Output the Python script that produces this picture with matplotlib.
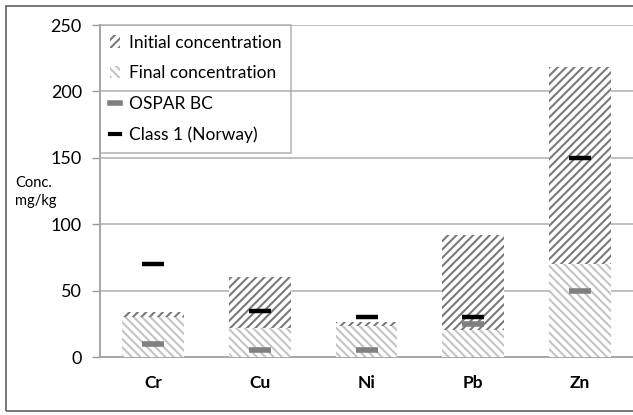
import matplotlib
matplotlib.use('Agg')
import matplotlib.pyplot as plt
from matplotlib.patches import Patch, Rectangle
from matplotlib.lines import Line2D

plt.rcParams['font.family'] = ['Lato', 'DejaVu Sans']
plt.rcParams['hatch.linewidth'] = 1.5

metals = ['Cr', 'Cu', 'Ni', 'Pb', 'Zn']
initial = [34, 60, 26, 92, 218]
final = [30, 22, 23, 20, 70]
ospar_bc = [10, 5, 5, 25, 50]
class1_norway = [70, 35, 30, 30, 150]

fig = plt.figure(figsize=(6.33, 4.15), dpi=100)
ax = fig.add_axes([100/633, 58/415, 533/633, 332/415])

x = range(len(metals))
ax.bar(x, initial, width=0.58, facecolor='white', edgecolor='#7a7a7a',
       linewidth=0, hatch='////', zorder=2)
ax.bar(x, final, width=0.58, facecolor='white', edgecolor='#c4c4c4',
       linewidth=0, hatch='\\\\\\\\', zorder=3)
ax.plot(x, ospar_bc, ls='none', marker='_', ms=16, mew=4, color='#808080', zorder=4)
ax.plot(x, class1_norway, ls='none', marker='_', ms=16, mew=3.2, color='black', zorder=5)

ax.set_xlim(-0.5, 4.5)
ax.set_ylim(0, 250)
ax.set_yticks(range(0, 251, 50))
ax.set_xticks(list(x))
ax.set_xticklabels(metals, fontweight='bold', fontsize=12.5)
ax.tick_params(axis='x', length=0, pad=13)
ax.tick_params(axis='y', length=6, width=1, color='#9a9a9a', labelsize=13, pad=7)
ax.grid(axis='y', color='#c0c0c0', lw=1.4, zorder=0)
ax.set_axisbelow(True)
for s in ['top', 'right']:
    ax.spines[s].set_visible(False)
for s in ['left', 'bottom']:
    ax.spines[s].set_color('#a6a6a6')
    ax.spines[s].set_linewidth(1.4)

fig.text(15/633, 1 - 192/415, 'Conc.\nmg/kg', fontsize=10.5, ha='left', va='center',
         linespacing=1.45)

handles = [
    Patch(facecolor='white', edgecolor='#7a7a7a', linewidth=0, hatch='////'),
    Patch(facecolor='white', edgecolor='#c4c4c4', linewidth=0, hatch='\\\\\\\\'),
    Line2D([], [], color='#808080', lw=4),
    Line2D([], [], color='black', lw=3),
]
labels = ['Initial concentration', 'Final concentration', 'OSPAR BC', 'Class 1 (Norway)']
leg = ax.legend(handles, labels, loc='upper left', bbox_to_anchor=(0, 1),
                borderaxespad=0, fancybox=False, edgecolor='#a6a6a6',
                fontsize=12.5, handlelength=0.6, handleheight=0.7, handletextpad=0.5,
                labelspacing=0.85, borderpad=0.55)
leg.get_frame().set_facecolor('none')
leg.get_frame().set_linewidth(1.2)

fig.patches.append(Rectangle((6/633, 4/415), 1.1, 405/415, transform=fig.transFigure,
                             fill=False, edgecolor='#606060', lw=1.2))

fig.savefig('out.png', dpi=100)
